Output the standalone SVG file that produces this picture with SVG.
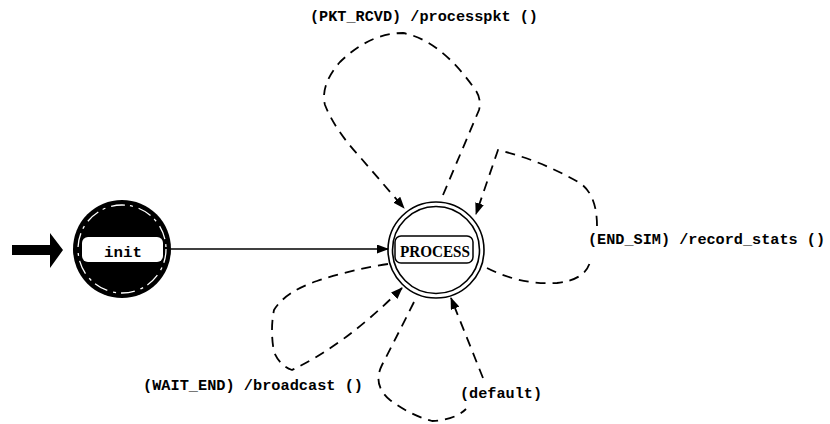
<svg xmlns="http://www.w3.org/2000/svg" width="830" height="424" viewBox="0 0 830 424">
<defs>
<marker id="ah" markerWidth="12" markerHeight="9" refX="11" refY="4.5" orient="auto" markerUnits="userSpaceOnUse">
<path d="M0,0 L12,4.5 L0,9 Z" fill="#000"/>
</marker>
<style>
.lbl{font-family:"Liberation Mono","DejaVu Sans Mono",monospace;font-size:15px;fill:#000;font-weight:bold}
.dash{fill:none;stroke:#000;stroke-width:1.8;stroke-dasharray:10 7}
.solid{fill:none;stroke:#000;stroke-width:1.5}
</style>
</defs>
<rect width="830" height="424" fill="#fff"/>
<g id="start-arrow">
<path d="M12,245 L50,245 L50,233 L63,250 L50,268 L50,255 L12,255 Z" fill="#000"/>
</g>
<g id="init">
<circle cx="122" cy="249" r="49" fill="#000"/>
<circle cx="122" cy="249" r="44" fill="none" stroke="#fff" stroke-width="1.3" stroke-dasharray="14 5 3 6"/>
<rect x="82" y="237" width="81" height="25" rx="6" fill="#fff"/>
<text class="lbl" x="104" y="257" textLength="38" lengthAdjust="spacingAndGlyphs">init</text>
</g>
<g id="PROCESS">
<circle cx="436" cy="250" r="48" fill="#fff" stroke="#000" stroke-width="1.6"/>
<circle cx="436" cy="250" r="43.5" fill="none" stroke="#000" stroke-width="1.6"/>
<rect x="395" y="236" width="78" height="27" rx="6" fill="#fff" stroke="#000" stroke-width="1.5"/>
<text class="lbl" x="400" y="257" textLength="70" lengthAdjust="spacingAndGlyphs" style="font-family:'Liberation Serif',serif;font-size:16px">PROCESS</text>
</g>
<g id="connectors">
<path class="solid" d="M171,249 L388,249" marker-end="url(#ah)"/>
<path class="dash" d="M443,195 L479,110 Q482,98 474,88 Q440,40 403,33 Q370,33 340,62 Q320,85 325,105 Q335,130 360,157 L404,208" marker-end="url(#ah)"/>
<path class="dash" d="M487,268 Q520,285 557,283 Q585,280 590,262 M597,226 Q597,195 580,183 Q540,160 498,150 L476,214" marker-end="url(#ah)"/>
<path class="dash" d="M388,264 Q350,270 317,281 Q285,292 274,310 Q270,330 274,352 Q280,366 292,370 Q345,345 402,288" marker-end="url(#ah)"/>
<path class="dash" d="M414,302 Q395,340 382,365 Q372,385 390,400 Q410,415 432,421 Q455,420 466,409 M483,378 L451,298" marker-end="url(#ah)"/>
</g>
<g id="labels">
<text class="lbl" x="310" y="21" textLength="228" lengthAdjust="spacingAndGlyphs">(PKT_RCVD) /processpkt ()</text>
<text class="lbl" x="588" y="244" textLength="237" lengthAdjust="spacingAndGlyphs">(END_SIM) /record_stats ()</text>
<text class="lbl" x="143" y="390" textLength="220" lengthAdjust="spacingAndGlyphs">(WAIT_END) /broadcast ()</text>
<text class="lbl" x="460" y="398" textLength="82" lengthAdjust="spacingAndGlyphs">(default)</text>
</g>
</svg>
